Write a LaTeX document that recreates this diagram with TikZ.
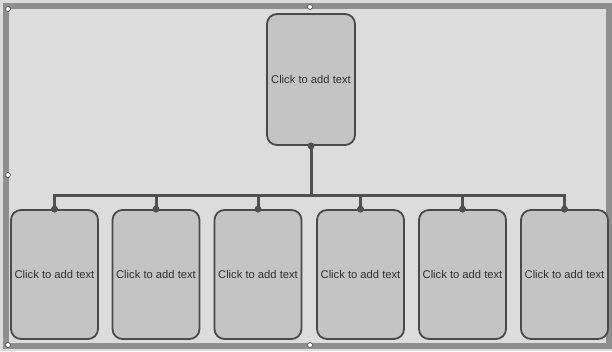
\documentclass[tikz,border=0pt]{standalone}
\usepackage{fontspec}
\setmainfont{Liberation Sans}
\begin{document}
\begin{tikzpicture}[x=1pt,y=-1pt,
  chartbox/.style={draw=boxline,fill=boxfill,line width=1.8pt,rounded corners=10pt,
    minimum width=87pt,minimum height=129pt,inner sep=0pt,
    font=\fontsize{11.2}{12}\selectfont,text=textcol},
  topbox/.style={chartbox,minimum width=88pt,minimum height=131pt},
  conn/.style={draw=connline,line width=3pt},
  joint/.style={circle,fill=connline,inner sep=0pt,minimum size=7pt},
  handle/.style={circle,draw=black!70,fill=white,line width=0.6pt,inner sep=0pt,minimum size=5pt}]
\definecolor{bg}{HTML}{DCDCDC}
\definecolor{boxfill}{HTML}{C4C4C4}
\definecolor{boxline}{HTML}{4A4A4A}
\definecolor{connline}{HTML}{505050}
\definecolor{framecol}{HTML}{8E8E8E}
\definecolor{textcol}{HTML}{303030}
\useasboundingbox (0,0) rectangle (612,351);
\fill[bg] (0,0) rectangle (612,351);
% selection frame
\draw[framecol,line width=6pt] (5.5,5.5) rectangle (608.5,345.5);
\node[handle] (h1) at (8,9) {};
\node[handle] (h2) at (310,7) {};
\node[handle] (h3) at (8,175) {};
\node[handle] (h4) at (8,345) {};
\node[handle] (h5) at (310,345) {};
% boxes
\node[topbox] (top) at (311,79.5) {Click to add text};
\node[chartbox] (b1) at (54.5,274.5) {Click to add text};
\node[chartbox] (b2) at (156,274.5) {Click to add text};
\node[chartbox] (b3) at (258,274.5) {Click to add text};
\node[chartbox] (b4) at (360.5,274.5) {Click to add text};
\node[chartbox] (b5) at (462.5,274.5) {Click to add text};
\node[chartbox] (b6) at (564.5,274.5) {Click to add text};
% connectors
\coordinate (bar) at (311,195);
\draw[conn] (top.south) -- (bar);
\draw[conn] (b1.north) |- (b6.north |- bar) -- (b6.north);
\foreach \b in {b2,b3,b4,b5}{
  \draw[conn] (\b.north) -- (\b.north |- bar);
}
\node[joint] (jt) at (top.south) {};
\foreach \b in {b1,b2,b3,b4,b5,b6}{
  \node[joint] (j\b) at (\b.north) {};
}
\end{tikzpicture}
\end{document}
